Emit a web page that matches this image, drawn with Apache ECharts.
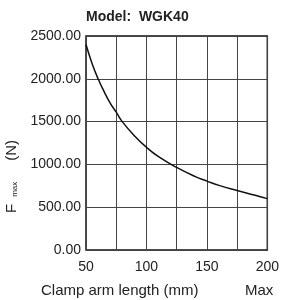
<!DOCTYPE html>
<html>
<head>
<meta charset="utf-8">
<script src="https://cdn.jsdelivr.net/npm/echarts@6/dist/echarts.min.js"></script>
<style>
  html, body { margin: 0; padding: 0; background: #fff; }
  #chart { width: 282px; height: 300px; }
</style>
</head>
<body>
<div id="chart"></div>
<script>
// clamp arm length (mm) and max clamping force (N)
var armLength = [50, 55, 60, 65, 70, 75, 80, 90, 100, 110, 125, 140, 150, 160, 175, 190, 200];
var forceMax = [2400, 2180, 2000, 1850, 1715, 1610, 1500, 1335, 1200, 1090, 965, 860, 805, 755, 695, 640, 600];

var xTicks = [50, 100, 150, 200];

var curve = armLength.map(function (l, i) { return [l, forceMax[i]]; });

var font = 'Liberation Sans, Arial, sans-serif';
var chart = echarts.init(document.getElementById('chart'));

var option = {
    animation: false,
    backgroundColor: '#fff',
    title: {
        text: 'Model:  WGK40',
        left: 81,
        top: 5,
        textStyle: { fontFamily: font, fontSize: 14, fontWeight: 'bold', color: '#222' }
    },
    grid: {
        left: 86, right: 10, top: 36, bottom: 50,
        show: true,
        borderColor: '#111',
        borderWidth: 1.5
    },
    xAxis: {
        type: 'value',
        min: 50,
        max: 200,
        interval: 25,
        axisLine: { show: false },
        axisTick: { show: false },
        axisLabel: {
            margin: 10,
            fontFamily: font,
            fontSize: 14,
            color: '#222',
            formatter: function (v) { return xTicks.indexOf(v) >= 0 ? String(v) : ''; }
        },
        splitLine: { lineStyle: { color: '#444', width: 1 } }
    },
    yAxis: {
        type: 'value',
        min: 0,
        max: 2500,
        interval: 500,
        axisLine: { show: false },
        axisTick: { show: false },
        axisLabel: {
            margin: 5,
            fontFamily: font,
            fontSize: 14,
            color: '#222',
            formatter: function (v) { return v.toFixed(2); }
        },
        splitLine: { lineStyle: { color: '#444', width: 1 } }
    },
    graphic: [
        {
            type: 'text',
            left: 41,
            top: 283,
            style: { text: 'Clamp arm length (mm)', font: '15px ' + font, fill: '#222' }
        },
        {
            type: 'text',
            left: 245,
            top: 283,
            style: { text: 'Max', font: '15px ' + font, fill: '#222' }
        },
        {
            type: 'text',
            x: 4,
            y: 213,
            rotation: Math.PI / 2,
            style: {
                text: '{f|F}{s|max}{n|(N)}',
                rich: {
                    f: { font: '15px ' + font, fill: '#222', verticalAlign: 'bottom' },
                    s: { font: '8px ' + font, fill: '#222', verticalAlign: 'bottom', padding: [0, 0, 0, 7] },
                    n: { font: '15px ' + font, fill: '#222', verticalAlign: 'bottom', padding: [0, 0, 0, 21] }
                }
            }
        }
    ],
    series: [
        {
            type: 'line',
            data: curve,
            smooth: true,
            showSymbol: false,
            lineStyle: { color: '#111', width: 1.5 }
        }
    ]
};

chart.setOption(option);
</script>
</body>
</html>
